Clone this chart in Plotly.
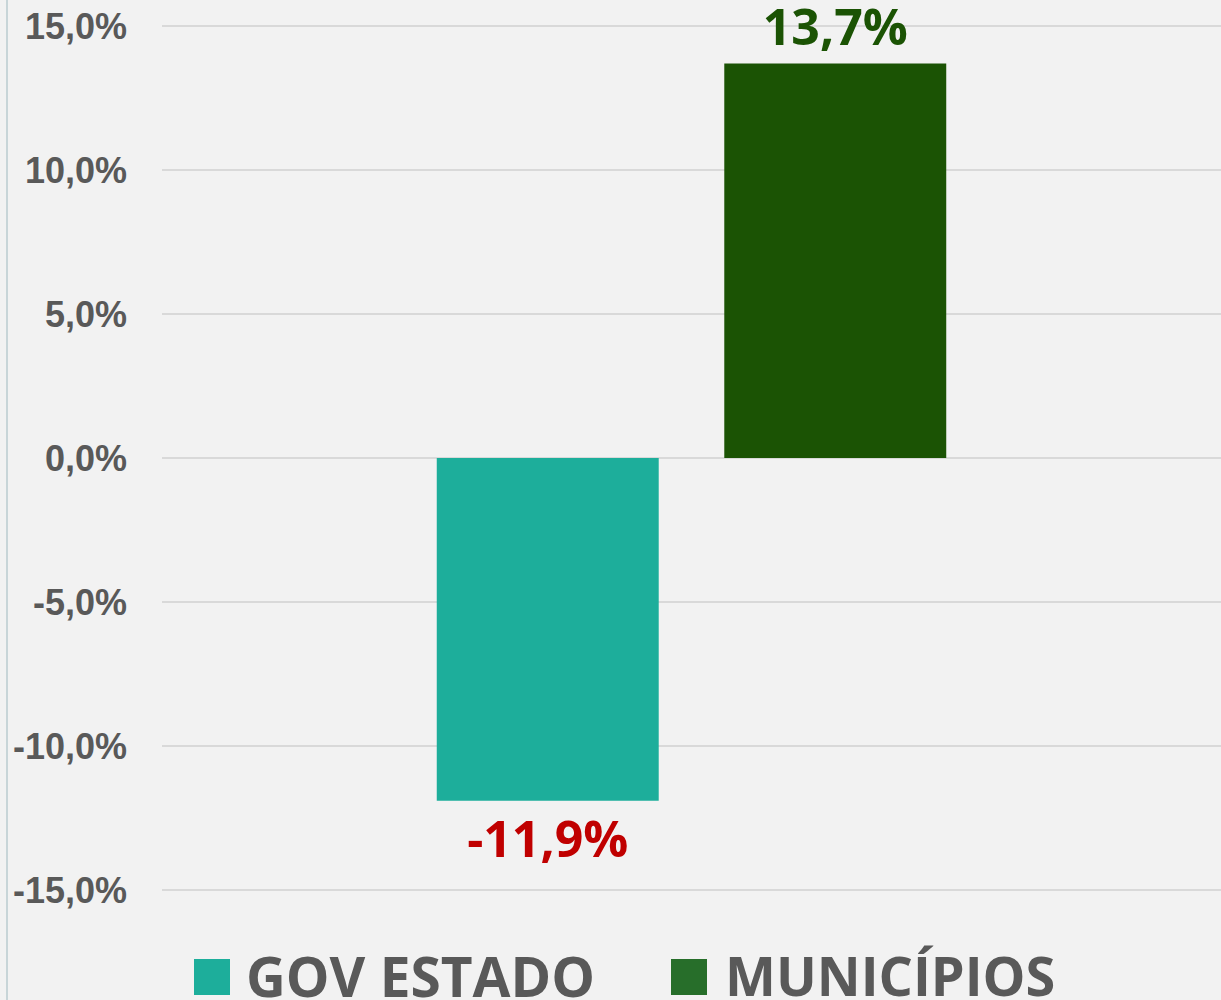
import plotly.graph_objects as go

# ---- data ----
categories = ["GOV ESTADO", "MUNICÍPIOS"]
values = [-11.9, 13.7]
bar_colors = ["#1DAE9B", "#1B5304"]
legend_colors = ["#1DAE9B", "#276E2A"]
label_colors = ["#C00000", "#1B5304"]
tick_vals = [-15, -10, -5, 0, 5, 10, 15]
tick_text = ["-15,0%", "-10,0%", "-5,0%", "0,0%", "5,0%", "10,0%", "15,0%"]

W, H = 1221, 1000
ML, MR, MT, MB = 162, 0, 0, 70
PW = W - ML - MR
PH = H - MT - MB


def px_x(px):
    return (px - ML) / PW


def px_y(py):
    return (PH + MT - py) / PH


def fmt(v):
    return f"{v:.1f}".replace(".", ",") + "%"


fig = go.Figure()
for name, v, c, lc in zip(categories, values, bar_colors, label_colors):
    fig.add_trace(go.Bar(
        x=["g"], y=[v], name=name,
        marker=dict(color=c, line=dict(width=0)),
        text=[fmt(v)], textposition="outside",
        textfont=dict(family="Open Sans", size=50, color=lc, weight="bold"),
        cliponaxis=False, showlegend=False,
    ))

# manual legend
leg_sq_x = [194, 671]
leg_txt_x = [244, 723]
leg_sizes = [55, 54]
shapes = []
annotations = []
for name, c, sx, tx, fs in zip(categories, legend_colors, leg_sq_x, leg_txt_x, leg_sizes):
    shapes.append(dict(type="rect", xref="paper", yref="paper",
                       x0=px_x(sx), x1=px_x(sx + 36), y0=px_y(995), y1=px_y(959),
                       fillcolor=c, line=dict(width=0)))
    annotations.append(dict(xref="paper", yref="paper", x=px_x(tx), y=px_y(975),
                            xanchor="left", yanchor="middle", showarrow=False,
                            text=name,
                            font=dict(family="Open Sans", size=fs, color="#595959", weight="bold")))

# left border line
shapes.append(dict(type="line", xref="paper", yref="paper",
                   x0=px_x(7), x1=px_x(7), y0=px_y(1000), y1=px_y(0),
                   line=dict(color="#C8D5D8", width=2)))

y_top = 458 / 28.8
y_bot = -(PH - 458) / 28.8

fig.update_layout(
    width=W, height=H,
    margin=dict(l=ML, r=MR, t=MT, b=MB, pad=0),
    paper_bgcolor="#F2F2F2", plot_bgcolor="#F2F2F2",
    barmode="group", bargap=0.457, bargroupgap=0.228,
    shapes=shapes, annotations=annotations,
    showlegend=False,
    xaxis=dict(visible=False, range=[-0.5, 0.5], type="category"),
    yaxis=dict(range=[y_bot, y_top], tickvals=tick_vals, ticktext=tick_text,
               showgrid=True, gridcolor="#D9D9D9", gridwidth=2,
               zeroline=False, showline=False, ticks="",
               ticklabelstandoff=34,
               tickfont=dict(family="Liberation Sans", size=36, color="#595959", weight="bold")),
)

fig.write_html("out.html",
               config={"displayModeBar": False},
               post_script="document.body.style.margin='0';document.body.style.overflow='hidden';")
